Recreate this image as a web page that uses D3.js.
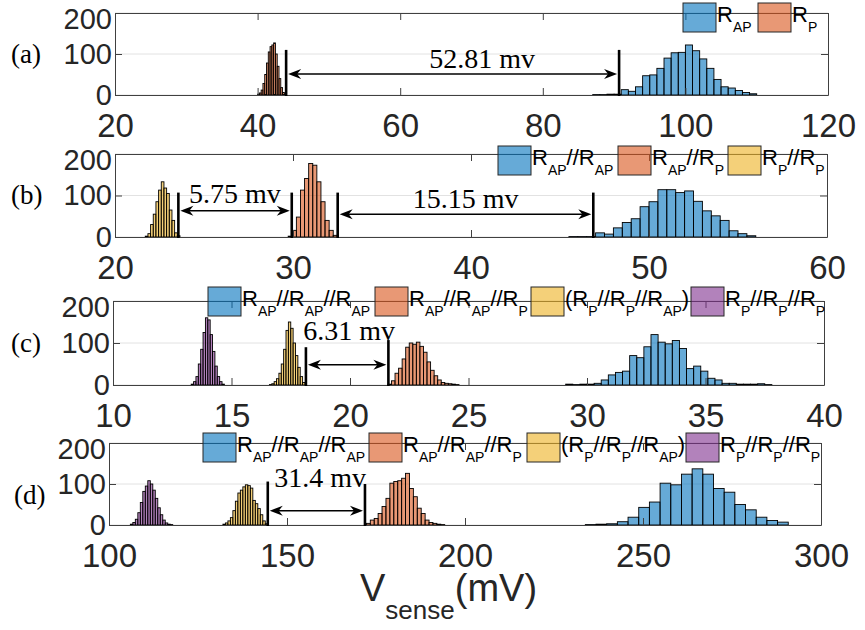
<!DOCTYPE html>
<html>
<head>
<meta charset="utf-8">
<script src="https://cdn.jsdelivr.net/npm/d3@7"></script>
<style>body{margin:0;background:#fff}</style>
</head>
<body>
<div id="viz"></div>
<script>
// Histogram counts per bin. bins = [first bin start, bin width]
// (a)
const binsA_RAP = [87, 1];
const countsA_RAP = [1,1,2,2,13,9,20,47,49,65,90,103,104,122,108,88,65,38,20,17,11,6,3];
const binsA_RP = [40.0, 0.25];
const countsA_RP = [2,5,12,28,50,78,105,118,122,127,100,70,40,18,6,2];
// (b)
const binsB_APAP = [45.5, 0.5];
const countsB_APAP = [1,1,1,10,7,22,35,44,73,85,114,114,107,111,86,63,51,40,15,8,3];
const binsB_APP = [29.73, 0.23];
const countsB_APP = [2,16,48,113,141,177,173,133,85,40,16,4];
const binsB_PP = [21.7, 0.15];
const countsB_PP = [2,8,30,55,85,113,133,118,105,65,40,10,3];
// (c)
const binsC_APAPAP = [29.1, 0.3];
const countsC_APAPAP = [2,1,2,2,4,12,24,30,33,70,65,91,120,102,98,106,87,39,45,33,16,12,4,4,2,2,2,3,1];
const binsC_APAPP = [21.6, 0.15];
const countsC_APAPP = [2,10,28,40,62,90,100,97,102,92,78,55,35,22,12,6,4,3,2,1];
const binsC_PPAP = [16.6, 0.1];
const countsC_PPAP = [1,3,8,15,28,50,85,130,150,135,100,70,42,20,6];
const binsC_PPP = [13.3, 0.1];
const countsC_PPP = [2,8,20,50,85,125,160,155,120,80,45,20,8,2];
// (d)
const binsD_APAPAP = [233.8, 3];
const countsD_APAPAP = [1,2,3,8,19,43,56,102,98,124,137,124,89,80,50,37,19,11,7];
const binsD_APAPP = [172.3, 1.1];
const countsD_APAPP = [4,12,16,28,45,65,102,106,108,114,126,89,69,41,28,12,6,4,2,1];
const binsD_PPAP = [132, 0.7];
const countsD_PPAP = [2,5,10,18,35,58,78,85,93,98,96,90,60,52,40,25,10,3];
const binsD_PPP = [106, 0.7];
const countsD_PPP = [2,6,14,30,55,82,95,108,100,85,65,42,25,12,5,2,1];

// tick labels
const ticksA = [20, 40, 60, 80, 100, 120];
const ticksB = [20, 30, 40, 50, 60];
const ticksC = [10, 15, 20, 25, 30, 35, 40];
const ticksD = [100, 150, 200, 250, 300];
const ticksY = [0, 100, 200];

// legend labels (tex-like subscripts)
const legendA = ["R_{AP}", "R_{P}"];
const legendB = ["R_{AP}//R_{AP}", "R_{AP}//R_{P}", "R_{P}//R_{P}"];
const legendCD = ["R_{AP}//R_{AP}//R_{AP}", "R_{AP}//R_{AP}//R_{P}", "(R_{P}//R_{P}//R_{AP})", "R_{P}//R_{P}//R_{P}"];

// annotations: marker lines [x, top count], arrows [x1, x2, y], labels [x, y, text]
const marksA = [[44.0, 110], [90.7, 110]];
const arrowsA = [[44.0, 90.7, 51]];
const notesA = [[71.5, 66, "52.81 mv"]];
const marksB = [[23.56, 107], [29.93, 107], [32.51, 107], [46.87, 107]];
const arrowsB = [[23.56, 29.93, 63], [32.51, 46.87, 55]];
const notesB = [[26.74, 82, "5.75 mv"], [39.7, 70, "15.15 mv"]];
const marksC = [[18.14, 90], [21.62, 107]];
const arrowsC = [[18.14, 21.62, 48]];
const notesC = [[19.96, 107, "6.31 mv"]];
const marksD = [[144.6, 106], [171.9, 100]];
const arrowsD = [[144.6, 171.9, 35]];
const notesD = [[159.3, 93, "31.4 mv"]];

const colors = ["#0072BD", "#D95319", "#EDB120", "#7E2F8E"];
const sans = "'Liberation Sans', Arial, Helvetica, sans-serif";
const serif = "'Liberation Serif', 'Times New Roman', serif";
const ink = "#262626";

const panels = [
  {tag: "(a)", tagX: 11, tagDy: 0, left: 115, right: 828, top: 13, bottom: 95, domain: [20, 120], ticks: ticksA,
   series: [[binsA_RAP, countsA_RAP], [binsA_RP, countsA_RP]],
   legend: legendA, legendX: [683, 758], legendTop: 3,
   marks: marksA, arrows: arrowsA, notes: notesA},
  {tag: "(b)", tagX: 11, tagDy: -1, left: 115, right: 827, top: 154, bottom: 237, domain: [20, 60], ticks: ticksB,
   series: [[binsB_APAP, countsB_APAP], [binsB_APP, countsB_APP], [binsB_PP, countsB_PP]],
   legend: legendB, legendX: [498, 618, 728], legendTop: 146,
   marks: marksB, arrows: arrowsB, notes: notesB},
  {tag: "(c)", tagX: 11, tagDy: 0, left: 113, right: 824, top: 301, bottom: 385, domain: [10, 40], ticks: ticksC,
   series: [[binsC_APAPAP, countsC_APAPAP], [binsC_APAPP, countsC_APAPP], [binsC_PPAP, countsC_PPAP], [binsC_PPP, countsC_PPP]],
   legend: legendCD, legendX: [208, 375, 531, 691], legendTop: 287,
   marks: marksC, arrows: arrowsC, notes: notesC},
  {tag: "(d)", tagX: 14, tagDy: 11, left: 109, right: 821, top: 443, bottom: 525, domain: [100, 300], ticks: ticksD,
   series: [[binsD_APAPAP, countsD_APAPAP], [binsD_APAPP, countsD_APAPP], [binsD_PPAP, countsD_PPAP], [binsD_PPP, countsD_PPP]],
   legend: legendCD, legendX: [203, 369, 527, 686], legendTop: 433,
   marks: marksD, arrows: arrowsD, notes: notesD}
];

const svg = d3.select("#viz").append("svg")
  .attr("width", 865)
  .attr("height", 630);

// write "R_{AP}//R_{P}" as tspans, subscripts dropped and smaller
function texText(sel, label, size, subSize, drop) {
  const parts = label.split(/_\{([^}]*)\}/);
  let low = false;
  parts.forEach((t, i) => {
    if (t === "") return;
    const isSub = i % 2 === 1;
    const ts = sel.append("tspan").text(t).attr("font-size", isSub ? subSize : size);
    if (isSub && !low) { ts.attr("dy", drop); low = true; }
    else if (!isSub && low) { ts.attr("dy", -drop); low = false; }
  });
}

function arrowHead(g, xt, yy, dir) {
  // dir = 1 pointing right, -1 pointing left
  const L = 13, hw = 5, back = 4;
  g.append("path")
    .attr("d", `M${xt},${yy} L${xt - dir * L},${yy - hw} L${xt - dir * (L - back)},${yy} L${xt - dir * L},${yy + hw} Z`)
    .attr("fill", "#000");
}

panels.forEach(p => {
  const x = d3.scaleLinear().domain(p.domain).range([p.left, p.right]);
  const y = d3.scaleLinear().domain([0, 200]).range([p.bottom, p.top]);
  const g = svg.append("g");

  // y grid
  g.append("g").selectAll("line").data(ticksY).join("line")
    .attr("x1", p.left).attr("x2", p.right)
    .attr("y1", d => y(d)).attr("y2", d => y(d))
    .attr("stroke", "#e2e2e2");

  // histograms
  p.series.forEach((s, si) => {
    const [start, w] = s[0];
    const bins = s[1].map((c, i) => ({x0: start + i * w, x1: start + (i + 1) * w, c: c}));
    g.append("g").selectAll("rect").data(bins).join("rect")
      .attr("x", d => x(d.x0))
      .attr("width", d => x(d.x1) - x(d.x0))
      .attr("y", d => y(d.c))
      .attr("height", d => y(0) - y(d.c))
      .attr("fill", colors[si])
      .attr("fill-opacity", 0.6)
      .attr("stroke", "#000")
      .attr("stroke-width", 0.9);
  });

  // axes (box on, ticks inside)
  const styleAxis = a => a.attr("color", "#404040").attr("font-family", sans);
  g.append("g").attr("transform", `translate(0,${p.bottom})`)
    .call(d3.axisBottom(x).tickValues(p.ticks).tickSizeInner(-7).tickSizeOuter(0).tickPadding(19))
    .call(styleAxis)
    .call(a => a.selectAll("text").attr("font-size", 33).attr("fill", ink));
  g.append("g").attr("transform", `translate(0,${p.top})`)
    .call(d3.axisTop(x).tickValues(p.ticks).tickFormat(() => "").tickSizeInner(-7).tickSizeOuter(0))
    .call(styleAxis);
  g.append("g").attr("transform", `translate(${p.left},0)`)
    .call(d3.axisLeft(y).tickValues(ticksY).tickSizeInner(-7).tickSizeOuter(0).tickPadding(3))
    .call(styleAxis)
    .call(a => a.selectAll("text").attr("font-size", 29).attr("fill", ink))
    .call(a => a.selectAll(".tick").filter(d => d === 200).select("text").attr("dy", "0.55em"));
  g.append("g").attr("transform", `translate(${p.right},0)`)
    .call(d3.axisRight(y).tickValues(ticksY).tickFormat(() => "").tickSizeInner(-7).tickSizeOuter(0))
    .call(styleAxis);

  // panel tag
  svg.append("text")
    .attr("x", p.tagX).attr("y", y(100) + p.tagDy)
    .attr("dy", "0.35em")
    .attr("font-family", serif).attr("font-size", 27)
    .attr("fill", "#000")
    .text(p.tag);

  // markers and arrows
  p.marks.forEach(m => {
    g.append("line")
      .attr("x1", x(m[0])).attr("x2", x(m[0]))
      .attr("y1", y(m[1])).attr("y2", y(0) + 1)
      .attr("stroke", "#000").attr("stroke-width", 2.6);
  });
  p.arrows.forEach(a => {
    const x1 = x(a[0]) + 2, x2 = x(a[1]) - 2, yy = y(a[2]);
    g.append("line")
      .attr("x1", x1 + 4).attr("x2", x2 - 4)
      .attr("y1", yy).attr("y2", yy)
      .attr("stroke", "#000").attr("stroke-width", 1.5);
    arrowHead(g, x1, yy, -1);
    arrowHead(g, x2, yy, 1);
  });
  p.notes.forEach(n => {
    g.append("text")
      .attr("x", x(n[0])).attr("y", y(n[1]))
      .attr("text-anchor", "middle")
      .attr("font-family", serif).attr("font-size", 28)
      .attr("fill", "#000")
      .text(n[2]);
  });

  // legend
  p.legend.forEach((lab, i) => {
    const bx = p.legendX[i];
    g.append("rect")
      .attr("x", bx).attr("y", p.legendTop)
      .attr("width", 33).attr("height", 29)
      .attr("fill", colors[i]).attr("fill-opacity", 0.6)
      .attr("stroke", ink).attr("stroke-width", 1);
    const t = g.append("text")
      .attr("x", bx + 34).attr("y", p.legendTop + 19)
      .attr("font-family", sans).attr("fill", "#000");
    texText(t, lab, 22, 14, 10);
  });
});

// x axis label
const xl = svg.append("text")
  .attr("x", 360).attr("y", 601)
  .attr("font-family", sans).attr("fill", ink);
xl.append("tspan").attr("font-size", 38).text("V");
xl.append("tspan").attr("font-size", 26).attr("dy", 18).text("sense");
xl.append("tspan").attr("font-size", 38).attr("dy", -18).text("(mV)");
</script>
</body>
</html>
